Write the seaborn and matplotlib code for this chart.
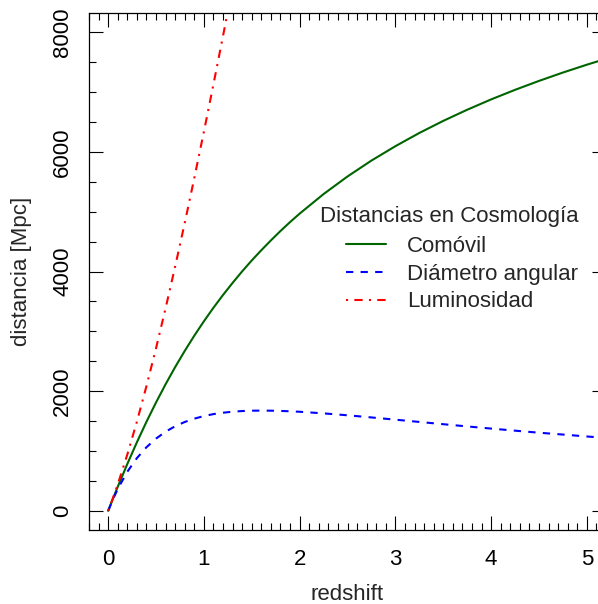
import numpy as np
import pandas as pd
import matplotlib
matplotlib.use("Agg")
import matplotlib.pyplot as plt
import seaborn as sns
from matplotlib.ticker import MultipleLocator
from matplotlib.lines import Line2D

# ---- data ----
redshift = [0.0, 0.05, 0.1, 0.2, 0.3, 0.4, 0.5, 0.6, 0.7, 0.8, 0.9, 1.0, 1.1, 1.2, 1.3,
            1.4, 1.5, 1.6, 1.7, 1.8, 1.9, 2.0, 2.25, 2.5, 2.75, 3.0, 3.25, 3.5, 3.75,
            4.0, 4.25, 4.5, 4.75, 5.0, 5.2]
comovil = [0, 203, 401, 783, 1145, 1488, 1811, 2116, 2403, 2673, 2928, 3168, 3395, 3608, 3810,
           4003, 4185, 4356, 4520, 4677, 4826, 4967, 5294, 5588, 5854, 6094, 6315, 6517, 6703,
           6876, 7036, 7185, 7325, 7456, 7555]
diametro_angular = [0, 193, 365, 653, 881, 1063, 1207, 1323, 1414, 1485, 1541, 1584, 1617, 1640, 1657,
                    1668, 1674, 1675, 1674, 1670, 1664, 1656, 1629, 1597, 1561, 1524, 1486, 1448, 1411,
                    1375, 1340, 1306, 1275, 1243, 1219]
redshift_lum = [0.0, 0.05, 0.1, 0.2, 0.3, 0.4, 0.5, 0.6, 0.7, 0.8, 0.9, 1.0, 1.1, 1.2, 1.3]
luminosidad = [0, 213, 441, 940, 1489, 2083, 2717, 3386, 4085, 4811, 5563, 6336, 7130, 7938, 8763]

labels = ["Comóvil", "Diámetro angular", "Luminosidad"]
legend_title = "Distancias en Cosmología"
x_label = "redshift"
y_label = "distancia [Mpc]"
x_ticks = [0, 1, 2, 3, 4, 5]
y_ticks = [0, 2000, 4000, 6000, 8000]

sns.set_style("ticks")
plt.rcParams["font.family"] = ["Liberation Sans", "DejaVu Sans"]

W, H = 598, 604
FS = 16
fig = plt.figure(figsize=(W / 100, H / 100), dpi=100)
ax = fig.add_axes([89 / W, (H - 530) / H, 517 / W, 517 / H])

colors = ["#006400", "#0000ff", "#ff0000"]
styles = ["-", (0, (3.5, 3.5)), (0, (1, 3, 4, 3))]
LW = 1.5

sns.lineplot(x=redshift, y=comovil, ax=ax, color=colors[0], linewidth=LW,
             linestyle=styles[0], estimator=None, sort=False)
sns.lineplot(x=redshift, y=diametro_angular, ax=ax, color=colors[1], linewidth=LW,
             linestyle=styles[1], estimator=None, sort=False)
sns.lineplot(x=redshift_lum, y=luminosidad, ax=ax, color=colors[2], linewidth=LW,
             linestyle=styles[2], estimator=None, sort=False)

ax.set_xlim(-0.2, 5.2)
ax.set_ylim(-320, 8320)
ax.set_xticks(x_ticks)
ax.set_yticks(y_ticks)
ax.xaxis.set_minor_locator(MultipleLocator(0.1))
ax.yaxis.set_minor_locator(MultipleLocator(500))

ax.tick_params(which="major", direction="in", length=10, width=0.8, color="black",
               top=True, right=True, labelsize=FS, labelcolor="black")
ax.tick_params(which="minor", direction="in", length=5, width=0.8, color="black",
               top=True, right=True)
ax.tick_params(axis="x", which="major", pad=14.0)
ax.tick_params(axis="y", which="major", pad=11.5)
for lab in ax.get_yticklabels():
    lab.set_rotation(90)
    lab.set_va("center")

for s in ax.spines.values():
    s.set_visible(True)
    s.set_color("black")
    s.set_linewidth(0.9)

ax.set_xlabel("")
ax.set_ylabel("")
fig.text(347.5 / W, 1 - 595 / H, x_label, ha="center", va="center", fontsize=FS)
fig.text(22 / W, 1 - 271.5 / H, y_label, ha="center", va="center", rotation=90, fontsize=FS)

# legend (no frame, R style)
handles = [Line2D([], [], color=c, linewidth=LW, linestyle=st) for c, st in zip(colors, styles)]
leg = ax.legend(handles, labels, loc="upper left",
                bbox_to_anchor=(346 / W, 1 - 236 / H), bbox_transform=fig.transFigure,
                frameon=False, fontsize=FS, handlelength=1.8, handletextpad=0.95,
                labelspacing=0.30, borderpad=0, borderaxespad=0)
fig.text(449 / W, 1 - 216 / H, legend_title, ha="center", va="center", fontsize=FS)

fig.savefig("out.png", dpi=100)
